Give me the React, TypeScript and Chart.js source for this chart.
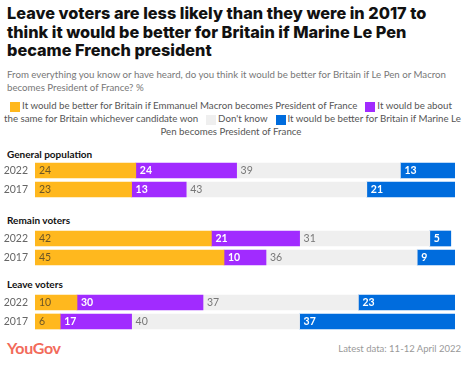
import React, { useEffect, useRef } from "react";
import { Chart, registerables } from "chart.js";

Chart.register(...registerables);

const years = ["2022", "2017"];
const groupNames = ["General population", "Remain voters", "Leave voters"];
// rows: Gen 2022, Gen 2017, Remain 2022, Remain 2017, Leave 2022, Leave 2017
const macronValues = [24, 23, 42, 45, 10, 6];
const sameValues = [24, 13, 21, 10, 30, 17];
const dontKnowValues = [39, 43, 31, 36, 37, 40];
const lePenValues = [13, 21, 5, 9, 23, 37];

const seriesLabels = [
  "It would be better for Britain if Emmanuel Macron becomes President of France",
  "It would be about the same for Britain whichever candidate won",
  "Don't know",
  "It would be better for Britain if Marine Le Pen becomes President of France",
];

const ORANGE = "#FFB81E";
const PURPLE = "#A12BFF";
const GRAY = "#EFEFEF";
const BLUE = "#006CDD";

const series = [
  { label: seriesLabels[0], values: macronValues, color: ORANGE, text: "rgba(70,60,40,0.8)", bold: false },
  { label: seriesLabels[1], values: sameValues, color: PURPLE, text: "#ffffff", bold: true },
  { label: seriesLabels[2], values: dontKnowValues, color: GRAY, text: "#777777", bold: false },
  { label: seriesLabels[3], values: lePenValues, color: BLUE, text: "#ffffff", bold: true },
];

const FONT = "Lato, 'Noto Sans', sans-serif";
const TITLE_FONT = "Inter, Lato, sans-serif";

const labelPlugin = {
  id: "barLabels",
  afterDatasetsDraw(chart: any) {
    const ctx = chart.ctx;
    ctx.save();
    chart.data.datasets.forEach((ds: any, i: number) => {
      const meta = chart.getDatasetMeta(i);
      const s = series[i];
      meta.data.forEach((el: any, j: number) => {
        const v = ds.data[j];
        const left = Math.min(el.x, el.base);
        ctx.font = `${s.bold ? "bold " : ""}10.5px ${FONT}`;
        ctx.fillStyle = s.text;
        ctx.textAlign = "left";
        ctx.textBaseline = "middle";
        ctx.fillText(String(v), left + 4, el.y + 0.5);
      });
    });
    ctx.restore();
  },
};

function GroupChart({ g, top }: { g: number; top: number }) {
  const ref = useRef<HTMLCanvasElement | null>(null);
  useEffect(() => {
    if (!ref.current) return;
    const chart = new Chart(ref.current, {
      type: "bar",
      data: {
        labels: years,
        datasets: series.map((s) => ({
          label: s.label,
          data: s.values.slice(2 * g, 2 * g + 2),
          backgroundColor: s.color,
          borderWidth: 0,
          barThickness: 15,
        })),
      },
      options: {
        indexAxis: "y",
        responsive: true,
        maintainAspectRatio: false,
        animation: false,
        layout: { padding: { left: 0, right: 11, top: 0, bottom: 0 } },
        plugins: { legend: { display: false }, tooltip: { enabled: false }, title: { display: false } },
        scales: {
          x: { stacked: true, min: 0, max: 100, display: false },
          y: {
            stacked: true,
            grid: { display: false, drawTicks: false },
            border: { display: false },
            ticks: { color: "#666666", font: { family: FONT, size: 10.5 }, padding: 7 },
            afterFit: (s: any) => {
              s.width = 35;
              s.paddingTop = 0;
              s.paddingBottom = 0;
            },
          },
        },
      } as any,
      plugins: [labelPlugin],
    });
    return () => chart.destroy();
  }, [g]);
  return (
    <div style={{ position: "absolute", left: 0, top, width: 466, height: 38 }}>
      <canvas ref={ref} />
    </div>
  );
}

const Swatch = ({ color }: { color: string }) => (
  <span
    style={{
      display: "inline-block",
      width: 10,
      height: 10,
      background: color,
      verticalAlign: -3,
      marginRight: 2,
    }}
  />
);

const Gap = () => <span style={{ display: "inline-block", width: 8 }} />;

export default function App() {
  const headingStyle: React.CSSProperties = {
    position: "absolute",
    left: 7,
    fontWeight: "bold",
    fontSize: 10,
    lineHeight: "12px",
    color: "#111",
    whiteSpace: "nowrap",
  };
  const legendLine: React.CSSProperties = { textAlign: "center", whiteSpace: "nowrap", height: 13 };
  return (
    <div
      style={{
        position: "absolute",
        left: 0,
        top: 0,
        width: 466,
        height: 365,
        background: "#fff",
        fontFamily: FONT,
        overflow: "hidden",
      }}
    >
      <div
        style={{
          position: "absolute",
          left: 7,
          top: 4,
          fontFamily: TITLE_FONT,
          fontSize: 16.3,
          fontWeight: 800,
          lineHeight: "18.5px",
          letterSpacing: 0,
          color: "#111",
          whiteSpace: "nowrap",
        }}
      >
        <div>Leave voters are less likely than they were in 2017 to</div>
        <div>think it would be better for Britain if Marine Le Pen</div>
        <div>became French president</div>
      </div>
      <div
        style={{
          position: "absolute",
          left: 7,
          top: 68,
          fontSize: 9.7,
          lineHeight: "13px",
          color: "#777",
          whiteSpace: "nowrap",
        }}
      >
        <div>From everything you know or have heard, do you think it would be better for Britain if Le Pen or Macron</div>
        <div>becomes President of France? %</div>
      </div>
      <div
        style={{
          position: "absolute",
          left: 4,
          width: 454,
          top: 99,
          fontSize: 9.7,
          lineHeight: "13px",
          color: "#555",
        }}
      >
        <div style={legendLine}>
          <Swatch color={ORANGE} />
          It would be better for Britain if Emmanuel Macron becomes President of France
          <Gap />
          <Swatch color={PURPLE} />
          It would be about
        </div>
        <div style={legendLine}>
          the same for Britain whichever candidate won
          <Gap />
          <Swatch color={GRAY} />
          Don't know
          <Gap />
          <Swatch color={BLUE} />
          It would be better for Britain if Marine Le
        </div>
        <div style={legendLine}>Pen becomes President of France</div>
      </div>

      <div style={{ ...headingStyle, top: 148 }}>{groupNames[0]}</div>
      <GroupChart g={0} top={161} />
      <div style={{ ...headingStyle, top: 214 }}>{groupNames[1]}</div>
      <GroupChart g={1} top={228.5} />
      <div style={{ ...headingStyle, top: 278 }}>{groupNames[2]}</div>
      <GroupChart g={2} top={293} />

      <div
        style={{
          position: "absolute",
          left: 7,
          top: 338,
          fontSize: 16,
          fontWeight: "bold",
          lineHeight: "19px",
          color: "#F26A5A",
          letterSpacing: -0.3,
        }}
      >
        YouGov
      </div>
      <div
        style={{
          position: "absolute",
          right: 5,
          top: 343,
          fontSize: 9.5,
          lineHeight: "12px",
          color: "#999",
          whiteSpace: "nowrap",
        }}
      >
        Latest data: 11-12 April 2022
      </div>
    </div>
  );
}
